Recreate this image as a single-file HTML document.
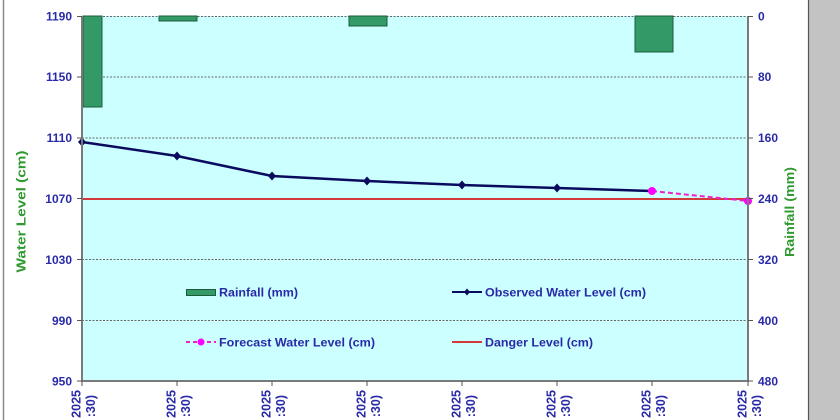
<!DOCTYPE html>
<html><head><meta charset="utf-8"><style>
html,body{margin:0;padding:0;background:#fff;width:840px;height:420px;overflow:hidden;}
svg{display:block;}
text{font-family:"Liberation Sans",Arial,sans-serif;font-weight:bold;}
</style></head><body>
<svg width="840" height="420" viewBox="0 0 840 420" xmlns="http://www.w3.org/2000/svg" overflow="hidden">
<rect x="0" y="0" width="840" height="420" fill="#ffffff"/>
<!-- outer frame -->
<line x1="3.5" y1="0" x2="3.5" y2="420" stroke="#8a8a8a" stroke-width="1.5"/>
<rect x="809" y="0" width="31" height="420" fill="#c3c3c3"/>
<line x1="808.5" y1="0" x2="808.5" y2="420" stroke="#555" stroke-width="1.2"/>

<!-- plot area -->
<rect x="82" y="16" width="666" height="365" fill="#ccffff"/>
<!-- gridlines -->
<g stroke="#666" stroke-width="1" stroke-dasharray="2,1.5">
<line x1="82" y1="16.5" x2="748" y2="16.5"/>
<line x1="82" y1="77" x2="748" y2="77"/>
<line x1="82" y1="138" x2="748" y2="138"/>
<line x1="82" y1="259.5" x2="748" y2="259.5"/>
<line x1="82" y1="320.5" x2="748" y2="320.5"/>
</g>

<!-- bars -->
<g fill="#339966" stroke="#1d5c3a" stroke-width="1">
<rect x="83" y="16" width="19" height="91"/>
<rect x="159" y="16" width="38" height="5"/>
<rect x="349" y="16" width="38" height="10"/>
<rect x="635" y="16" width="38" height="36"/>
</g>

<!-- danger level -->
<line x1="82" y1="199" x2="748" y2="199" stroke="#d23a3a" stroke-width="2"/>

<!-- observed -->
<polyline points="82,142 177,156 272,176 367,181 462,185 557,188 652,191" fill="none" stroke="#0a0a5e" stroke-width="2.5"/>
<g fill="#0a0a5e">
<path d="M82,137.5 L86,142 L82,146.5 L78,142 Z"/>
<path d="M177,151.5 L181,156 L177,160.5 L173,156 Z"/>
<path d="M272,171.5 L276,176 L272,180.5 L268,176 Z"/>
<path d="M367,176.5 L371,181 L367,185.5 L363,181 Z"/>
<path d="M462,180.5 L466,185 L462,189.5 L458,185 Z"/>
<path d="M557,183.5 L561,188 L557,192.5 L553,188 Z"/>
</g>
<!-- forecast -->
<line x1="652" y1="191" x2="748" y2="201" stroke="#ee22cc" stroke-width="2" stroke-dasharray="5,3"/>
<circle cx="652" cy="191" r="4" fill="#ff00ff"/>
<circle cx="748" cy="201" r="4" fill="#ff00ff"/>

<!-- axes -->
<g stroke="#7a7a7a" stroke-width="2">
<line x1="82" y1="16" x2="82" y2="382"/>
<line x1="748" y1="16" x2="748" y2="382"/>
<line x1="81" y1="381" x2="749" y2="381"/>
</g>
<g stroke="#555" stroke-width="1">
<line x1="77" y1="16.5" x2="82" y2="16.5"/><line x1="77" y1="77" x2="82" y2="77"/>
<line x1="77" y1="138" x2="82" y2="138"/><line x1="77" y1="198.5" x2="82" y2="198.5"/>
<line x1="77" y1="259.5" x2="82" y2="259.5"/><line x1="77" y1="320.5" x2="82" y2="320.5"/>
<line x1="77" y1="381" x2="82" y2="381"/>
<line x1="748" y1="16.5" x2="753" y2="16.5"/><line x1="748" y1="77" x2="753" y2="77"/>
<line x1="748" y1="138" x2="753" y2="138"/><line x1="748" y1="198.5" x2="753" y2="198.5"/>
<line x1="748" y1="259.5" x2="753" y2="259.5"/><line x1="748" y1="320.5" x2="753" y2="320.5"/>
<line x1="748" y1="381" x2="753" y2="381"/>
<line x1="82" y1="381" x2="82" y2="386"/><line x1="177" y1="381" x2="177" y2="386"/>
<line x1="272" y1="381" x2="272" y2="386"/><line x1="367" y1="381" x2="367" y2="386"/>
<line x1="462" y1="381" x2="462" y2="386"/><line x1="557" y1="381" x2="557" y2="386"/>
<line x1="652" y1="381" x2="652" y2="386"/><line x1="748" y1="381" x2="748" y2="386"/>
</g>

<!-- left tick labels -->
<g font-size="12" fill="#2a2aa8" text-anchor="end">
<text x="72" y="20.5">1190</text>
<text x="72" y="81">1150</text>
<text x="72" y="142">1110</text>
<text x="72" y="203">1070</text>
<text x="72" y="264">1030</text>
<text x="72" y="325">990</text>
<text x="72" y="385.5">950</text>
</g>
<!-- right tick labels -->
<g font-size="12" fill="#2a2aa8" text-anchor="start">
<text x="758" y="20.5">0</text>
<text x="758" y="81">80</text>
<text x="758" y="142">160</text>
<text x="758" y="203">240</text>
<text x="758" y="264">320</text>
<text x="758" y="325">400</text>
<text x="758" y="385.5">480</text>
</g>

<!-- axis titles -->
<text transform="translate(25.5,211.5) rotate(-90)" text-anchor="middle" font-size="13" fill="#2f9a2f" textLength="122" lengthAdjust="spacingAndGlyphs">Water Level (cm)</text>
<text transform="translate(794,212) rotate(-90)" text-anchor="middle" font-size="13" fill="#2f9a2f" textLength="90" lengthAdjust="spacingAndGlyphs">Rainfall (mm)</text>

<!-- x labels (visible portion) -->
<g font-size="12.5" fill="#2a2aa8" text-anchor="end">
<text transform="translate(80.5,390) rotate(-90)">2025</text><text transform="translate(95,395) rotate(-90)">:30)</text>
<text transform="translate(175.5,390) rotate(-90)">2025</text><text transform="translate(190,395) rotate(-90)">:30)</text>
<text transform="translate(270.5,390) rotate(-90)">2025</text><text transform="translate(285,395) rotate(-90)">:30)</text>
<text transform="translate(365.5,390) rotate(-90)">2025</text><text transform="translate(380,395) rotate(-90)">:30)</text>
<text transform="translate(460.5,390) rotate(-90)">2025</text><text transform="translate(475,395) rotate(-90)">:30)</text>
<text transform="translate(555.5,390) rotate(-90)">2025</text><text transform="translate(570,395) rotate(-90)">:30)</text>
<text transform="translate(650.5,390) rotate(-90)">2025</text><text transform="translate(665,395) rotate(-90)">:30)</text>
<text transform="translate(746.5,390) rotate(-90)">2025</text><text transform="translate(761,395) rotate(-90)">:30)</text>
</g>

<!-- legend -->
<rect x="186.5" y="289.5" width="29" height="6" fill="#339966" stroke="#1d5c3a" stroke-width="1"/>
<text x="219" y="296.5" font-size="11.5" fill="#2a2aa8" textLength="79" lengthAdjust="spacingAndGlyphs">Rainfall (mm)</text>

<line x1="452" y1="292" x2="482" y2="292" stroke="#0a0a5e" stroke-width="2"/>
<path d="M467,288.5 L470,292 L467,295.5 L464,292 Z" fill="#0a0a5e"/>
<text x="485" y="296.5" font-size="11.5" fill="#2a2aa8" textLength="161" lengthAdjust="spacingAndGlyphs">Observed Water Level (cm)</text>

<line x1="186" y1="342" x2="216" y2="342" stroke="#ee22cc" stroke-width="2" stroke-dasharray="4,3"/>
<circle cx="201" cy="342" r="3.5" fill="#ff00ff"/>
<text x="219" y="346.5" font-size="11.5" fill="#2a2aa8" textLength="156" lengthAdjust="spacingAndGlyphs">Forecast Water Level (cm)</text>

<line x1="452" y1="342" x2="482" y2="342" stroke="#d23a3a" stroke-width="2"/>
<text x="485" y="346.5" font-size="11.5" fill="#2a2aa8" textLength="108" lengthAdjust="spacingAndGlyphs">Danger Level (cm)</text>
</svg>
</body></html>
